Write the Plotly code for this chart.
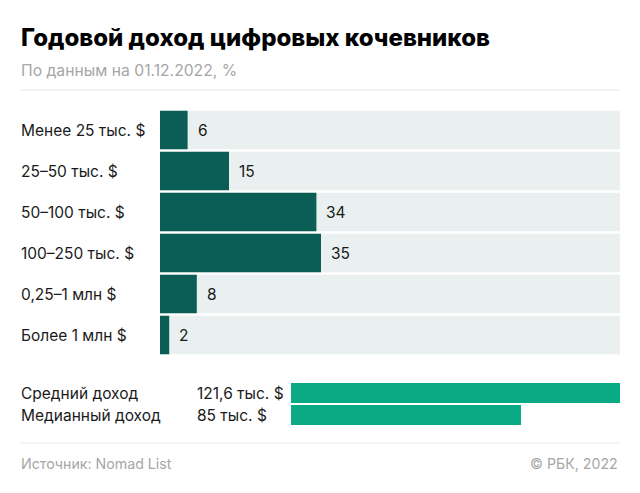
import plotly.graph_objects as go

W, H = 632, 485
OFF = 8  # page offset of the plot div

categories = ["Менее 25 тыс. $", "25–50 тыс. $", "50–100 тыс. $", "100–250 тыс. $", "0,25–1 млн $", "Более 1 млн $"]
shares = [6, 15, 34, 35, 8, 2]

summary_labels = ["Средний доход", "Медианный доход"]
summary_values = [121.6, 85]
summary_texts = ["121,6 тыс. $", "85 тыс. $"]

title = "Годовой доход цифровых кочевников"
subtitle = "По данным на 01.12.2022, %"
source = "Источник: Nomad List"
copyright_text = "© РБК, 2022"

DARK = "#0b5e55"
BG = "#e9f0ef"
LIGHT = "#0aaa85"
FONT = "Inter"

def py(px):
    return 1 - (px - OFF) / H

def px_x(px):
    return (px - OFF) / W

fig = go.Figure()

fig.add_trace(go.Bar(y=categories, x=[100] * len(categories), orientation="h",
                     marker=dict(color=BG, line=dict(width=0)), width=0.94,
                     hoverinfo="skip", xaxis="x", yaxis="y", showlegend=False))
fig.add_trace(go.Bar(y=categories, x=shares, orientation="h",
                     marker=dict(color=DARK, line=dict(width=0)), width=0.94,
                     xaxis="x", yaxis="y", showlegend=False))
fig.add_trace(go.Bar(y=summary_labels, x=summary_values, orientation="h",
                     marker=dict(color=LIGHT, line=dict(width=0)), width=0.91,
                     xaxis="x2", yaxis="y2", showlegend=False))

LBL = 15.5
TXT = "#1a1a1a"
annotations = []
for c, v in zip(categories, shares):
    annotations.append(dict(x=px_x(18.5), xref="paper", y=c, yref="y", text=c,
                            xanchor="left", yanchor="middle", showarrow=False,
                            font=dict(family=FONT, size=LBL, color=TXT)))
    annotations.append(dict(x=v, xref="x", y=c, yref="y", text=str(v), xshift=8,
                            xanchor="left", yanchor="middle", showarrow=False,
                            font=dict(family=FONT, size=LBL, color=TXT)))
for lab, t in zip(summary_labels, summary_texts):
    annotations.append(dict(x=px_x(18.5), xref="paper", y=lab, yref="y2", text=lab,
                            xanchor="left", yanchor="middle", showarrow=False,
                            font=dict(family=FONT, size=LBL, color=TXT)))
    annotations.append(dict(x=px_x(195), xref="paper", y=lab, yref="y2", text=t,
                            xanchor="left", yanchor="middle", showarrow=False,
                            font=dict(family=FONT, size=LBL, color=TXT)))

annotations += [
    dict(x=px_x(19), y=py(37), xref="paper", yref="paper", text=title,
         xanchor="left", yanchor="middle", showarrow=False,
         font=dict(family=FONT, size=24, color="#000", weight=800)),
    dict(x=px_x(19), y=py(71), xref="paper", yref="paper", text=subtitle,
         xanchor="left", yanchor="middle", showarrow=False,
         font=dict(family=FONT, size=15.7, color="#a6a6a6")),
    dict(x=px_x(19), y=py(463), xref="paper", yref="paper", text=source,
         xanchor="left", yanchor="middle", showarrow=False,
         font=dict(family=FONT, size=14.2, color="#a6a6a6")),
    dict(x=px_x(620), y=py(463), xref="paper", yref="paper", text=copyright_text,
         xanchor="right", yanchor="middle", showarrow=False,
         font=dict(family=FONT, size=14.2, color="#a6a6a6")),
]

shapes = [
    dict(type="line", xref="paper", yref="paper", x0=px_x(20), x1=px_x(620),
         y0=py(90), y1=py(90), line=dict(color="#e6e6e6", width=1)),
    dict(type="line", xref="paper", yref="paper", x0=px_x(20), x1=px_x(620),
         y0=py(443), y1=py(443), line=dict(color="#e6e6e6", width=1)),
]

fig.update_layout(
    width=W, height=H,
    margin=dict(l=0, r=0, t=0, b=0),
    paper_bgcolor="white", plot_bgcolor="white",
    barmode="overlay",
    xaxis=dict(domain=[px_x(160), px_x(620)], range=[0, 100], visible=False, fixedrange=True),
    yaxis=dict(domain=[py(355.5), py(109.5)], categoryorder="array",
               categoryarray=categories[::-1], visible=False, fixedrange=True,
               range=[-0.5, len(categories) - 0.5]),
    xaxis2=dict(domain=[px_x(291), px_x(620)], range=[0, max(summary_values)],
                visible=False, fixedrange=True, anchor="y2"),
    yaxis2=dict(domain=[py(426), py(382)], categoryorder="array",
                categoryarray=summary_labels[::-1], visible=False, fixedrange=True,
                anchor="x2", range=[-0.5, 1.5]),
    annotations=annotations,
    shapes=shapes,
    font=dict(family=FONT),
)

fig.write_html("out.html")
